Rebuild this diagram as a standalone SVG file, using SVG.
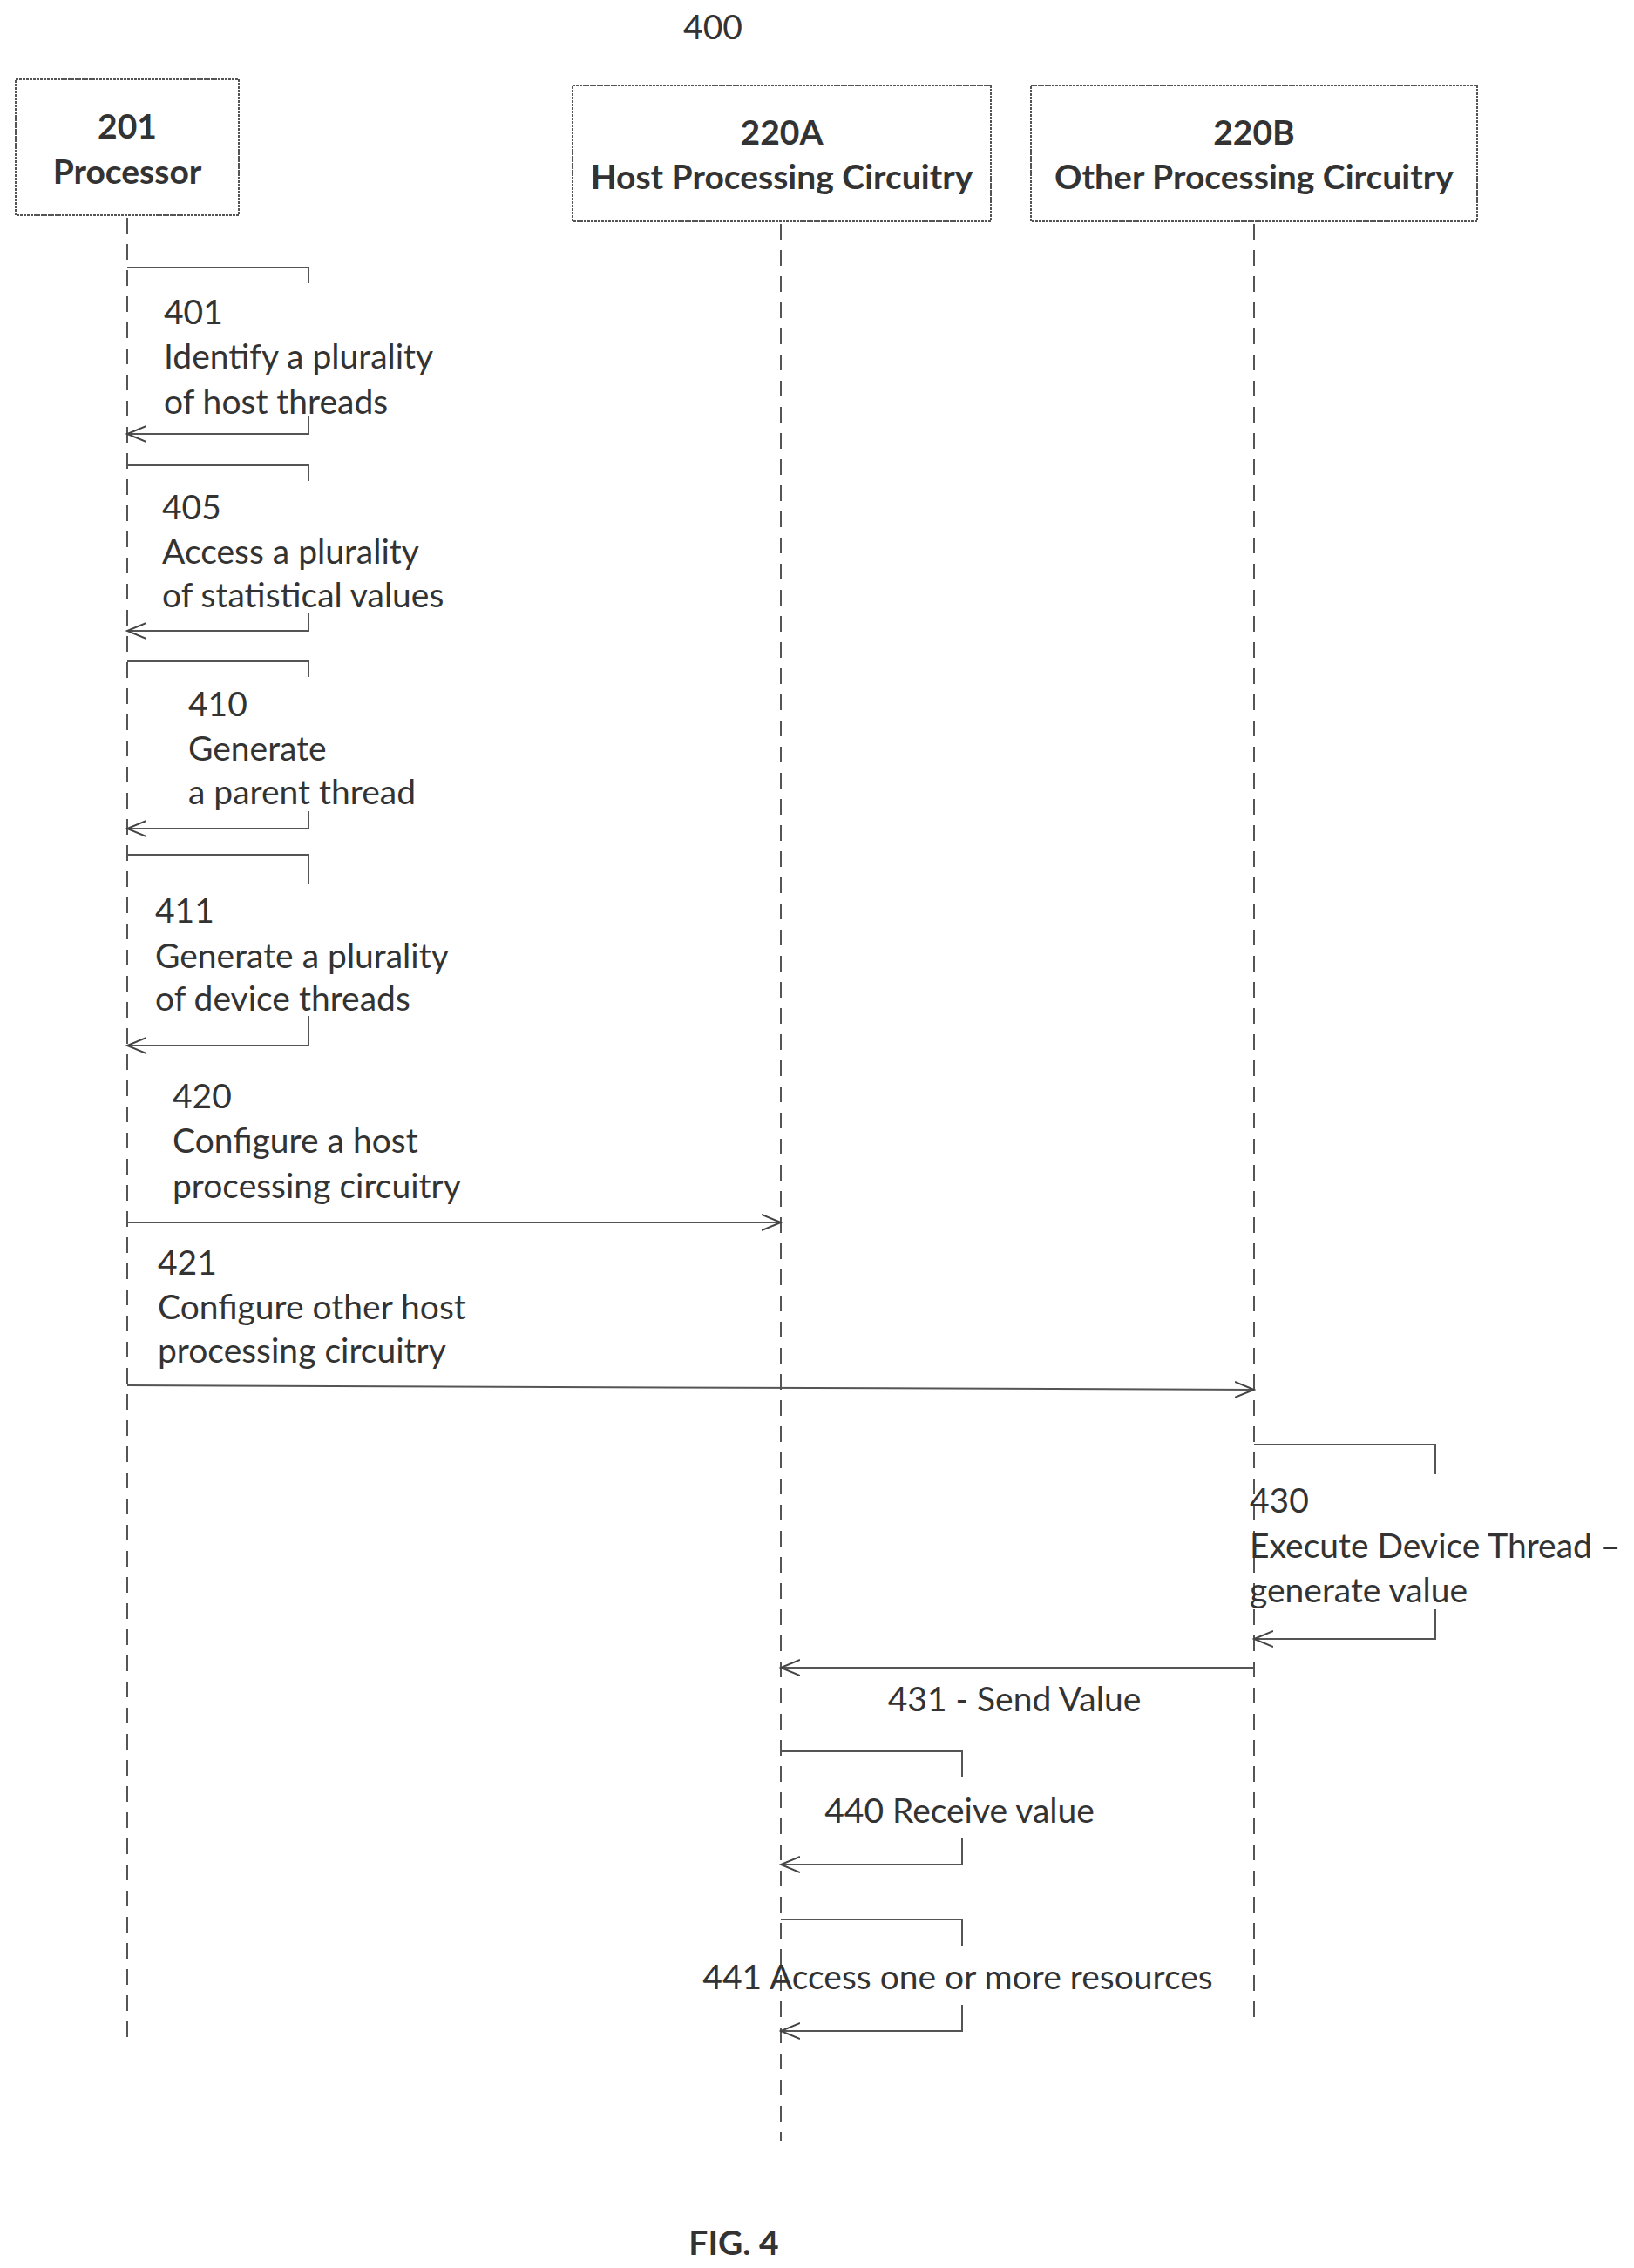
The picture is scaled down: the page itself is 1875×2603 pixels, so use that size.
<svg xmlns="http://www.w3.org/2000/svg" width="1875" height="2603" viewBox="0 0 1875 2603">
<defs>
<marker id="ah" markerWidth="24" markerHeight="20" refX="22" refY="10" orient="auto" markerUnits="userSpaceOnUse">
<path d="M0,1 L22,10 L0,19" fill="none" stroke="#444" stroke-width="2"/>
</marker>
<style>
text{font-family:Lato,"Noto Sans",sans-serif;fill:#333;font-size:39px;dominant-baseline:central}
.b{font-weight:bold;text-anchor:middle}
.box{fill:#fff;stroke:#555;stroke-width:2;stroke-dasharray:3 1}
.life{stroke:#555;stroke-width:2;stroke-dasharray:18 12;fill:none}
.msg{stroke:#555;stroke-width:2;fill:none;marker-end:url(#ah)}
.ln{stroke:#555;stroke-width:2;fill:none}
.m{text-anchor:middle}
</style>
</defs>
<rect width="1875" height="2603" fill="#fff"/>
<text x="818" y="30" class="m">400</text>
<g id="n201"><rect class="box" x="18" y="91" width="256" height="156"/><text x="146" y="144" class="b">201</text><text x="146" y="196" class="b">Processor</text></g>
<g id="n220A"><rect class="box" x="657" y="98" width="480" height="156"/><text x="897" y="151" class="b">220A</text><text x="897" y="202" class="b">Host Processing Circuitry</text></g>
<g id="n220B"><rect class="box" x="1183" y="98" width="512" height="156"/><text x="1439" y="151" class="b">220B</text><text x="1439" y="202" class="b">Other Processing Circuitry</text></g>
<g id="connectors">
<line class="life" x1="146" y1="250" x2="146" y2="2340"/>
<line class="life" x1="896" y1="257" x2="896" y2="2457"/>
<line class="life" x1="1439" y1="257" x2="1439" y2="2324"/>
<path class="ln" d="M146,307 H354 V325"/><path class="msg" d="M354,478 V498 H146"/>
<path class="ln" d="M146,534 H354 V552"/><path class="msg" d="M354,704 V724 H146"/>
<path class="ln" d="M146,759 H354 V777"/><path class="msg" d="M354,931 V951 H146"/>
<path class="ln" d="M146,981 H354 V1015"/><path class="msg" d="M354,1166 V1200 H146"/>
<path class="msg" d="M146,1403 H896"/>
<path class="msg" d="M146,1590 L1439,1595"/>
<path class="ln" d="M1439,1658 H1647 V1692"/><path class="msg" d="M1647,1847 V1881 H1439"/>
<path class="msg" d="M1439,1914 H896"/>
<path class="ln" d="M896,2010 H1104 V2040"/><path class="msg" d="M1104,2110 V2140 H896"/>
<path class="ln" d="M896,2203 H1104 V2233"/><path class="msg" d="M1104,2301 V2331 H896"/>
</g>
<g id="labels">
<text x="188" y="357">401</text><text x="188" y="408">Identify a plurality</text><text x="188" y="460">of host threads</text>
<text x="186" y="581">405</text><text x="186" y="632">Access a plurality</text><text x="186" y="682">of statistical values</text>
<text x="216" y="807">410</text><text x="216" y="858">Generate</text><text x="216" y="908">a parent thread</text>
<text x="178" y="1044">411</text><text x="178" y="1096">Generate a plurality</text><text x="178" y="1145">of device threads</text>
<text x="198" y="1257">420</text><text x="198" y="1308">Configure a host</text><text x="198" y="1360">processing circuitry</text>
<text x="181" y="1448">421</text><text x="181" y="1499">Configure other host</text><text x="181" y="1549">processing circuitry</text>
<text x="1434" y="1721">430</text><text x="1434" y="1773">Execute Device Thread –</text><text x="1434" y="1824">generate value</text>
<text x="1164" y="1949" class="m">431 - Send Value</text>
<text x="1101" y="2077" class="m">440 Receive value</text>
<text x="1099" y="2268" class="m">441 Access one or more resources</text>
</g>
<text x="842" y="2573" class="b">FIG. 4</text>
</svg>
